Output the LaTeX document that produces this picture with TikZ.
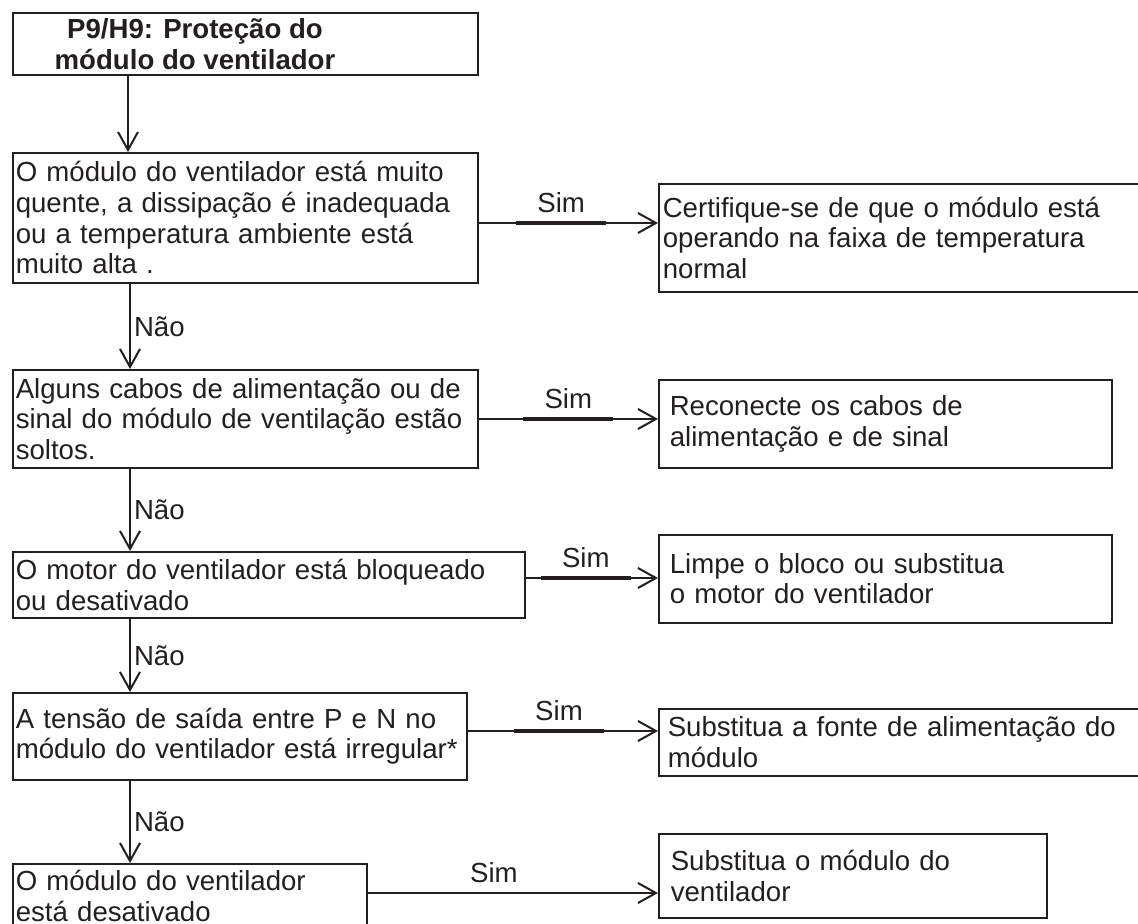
\documentclass[tikz,border=0pt]{standalone}
\usepackage{fontspec}
\setmainfont{Liberation Sans}
\usepackage{xcolor}
\usetikzlibrary{arrows.meta}
\usetikzlibrary{math, positioning}

\definecolor{ink}{HTML}{231F20}
\newcommand{\boxfont}{\fontsize{13.8}{15.3}\selectfont}

\tikzset{
  box/.style n args={3}{draw=ink, line width=0.8pt, anchor=north west,
    inner xsep=#3*0.5pt, inner ysep=0pt,
    minimum width=#1*0.5pt, minimum height=#2*0.5pt,
    /utils/exec={\pgfmathsetlengthmacro\boxtw{#1*0.5pt-#3*1pt}},
    text width=\boxtw, align=left, text=ink, font=\boxfont},
  flow/.style={draw=ink, line width=1pt, -{Straight Barb[length=9pt,width=10pt]}},
  heavy/.style={draw=ink, line width=2.2pt},
  lbl/.style={text=ink, font=\boxfont, inner sep=1.5pt},
}

\begin{document}
\begin{tikzpicture}[x=0.5pt, y=-0.5pt]
\tikzmath{
\xl=12;
\xr=658;
}
\useasboundingbox (0,0) rectangle (1138,924);

% title
\node[box={465}{62}{3}] (t0) at (\xl,12) {};
\node[lbl, font=\boxfont\bfseries, align=center] (t0text) at (195,44) {P9/H9: Proteção do\\módulo do ventilador};

% questions
\node[box={465}{130}{3}] (q1) at (\xl,152) {O módulo do ventilador está muito\\quente, a dissipação é inadequada\\ou a temperatura ambiente está\\muito alta .};
\node[box={465}{98}{3}] (q2) at (\xl,369) {Alguns cabos de alimentação ou de\\sinal do módulo de ventilação estão\\soltos.};
\node[box={512}{66}{3}] (q3) at (\xl,551) {O motor do ventilador está bloqueado\\ou desativado};
\node[box={454}{87}{3}] (q4) at (\xl,692) {A tensão de saída entre P e N no\\módulo do ventilador está irregular*};
\node[box={354}{64}{3}] (q5) at (\xl,863) {O módulo do ventilador\\está desativado};

% actions
\node[box={492}{108}{4}] (a1) at (\xr,183) {Certifique-se de que o módulo está\\operando na faixa de temperatura\\normal};
\node[box={453}{88}{11}] (a2) at (\xr,379) {Reconecte os cabos de\\alimentação e de sinal};
\node[box={453}{88}{11}] (a3) at (\xr,534) {Limpe o bloco ou substitua\\o motor do ventilador};
\node[box={492}{67}{9}] (a4) at (\xr,708) {Substitua a fonte de alimentação do\\módulo};
\node[box={388}{84}{12}] (a5) at (\xr,833) {Substitua o módulo do\\ventilador};

% vertical connectors
\coordinate (v0) at (128,0);
\coordinate (v1) at (130,0);
\draw[flow] (t0.south -| v0) -- (q1.north -| v0);
\foreach \u/\w in {q1/q2, q2/q3, q3/q4, q4/q5}{
\draw[flow] (\u.south -| v1) -- (\w.north -| v1) node[midway, right, lbl] {Não};
}

% horizontal connectors
\foreach \u/\w/\y/\p in {q1/a1/223/0.46, q2/a2/419/0.5, q3/a3/578/0.455, q4/a4/731/0.48, q5/a5/893/0.435}{
\coordinate (h) at (0,\y);
\draw[flow] (\u.east |- h) -- (\w.west |- h)
  coordinate[pos=\p] (m\u)
  node[pos=\p, above=3pt, lbl] {Sim};
}
\foreach \u in {q1,q2,q3,q4}{
\draw[heavy] (m\u) ++(-45,0) -- ++(90,0);
}

\end{tikzpicture}
\end{document}
